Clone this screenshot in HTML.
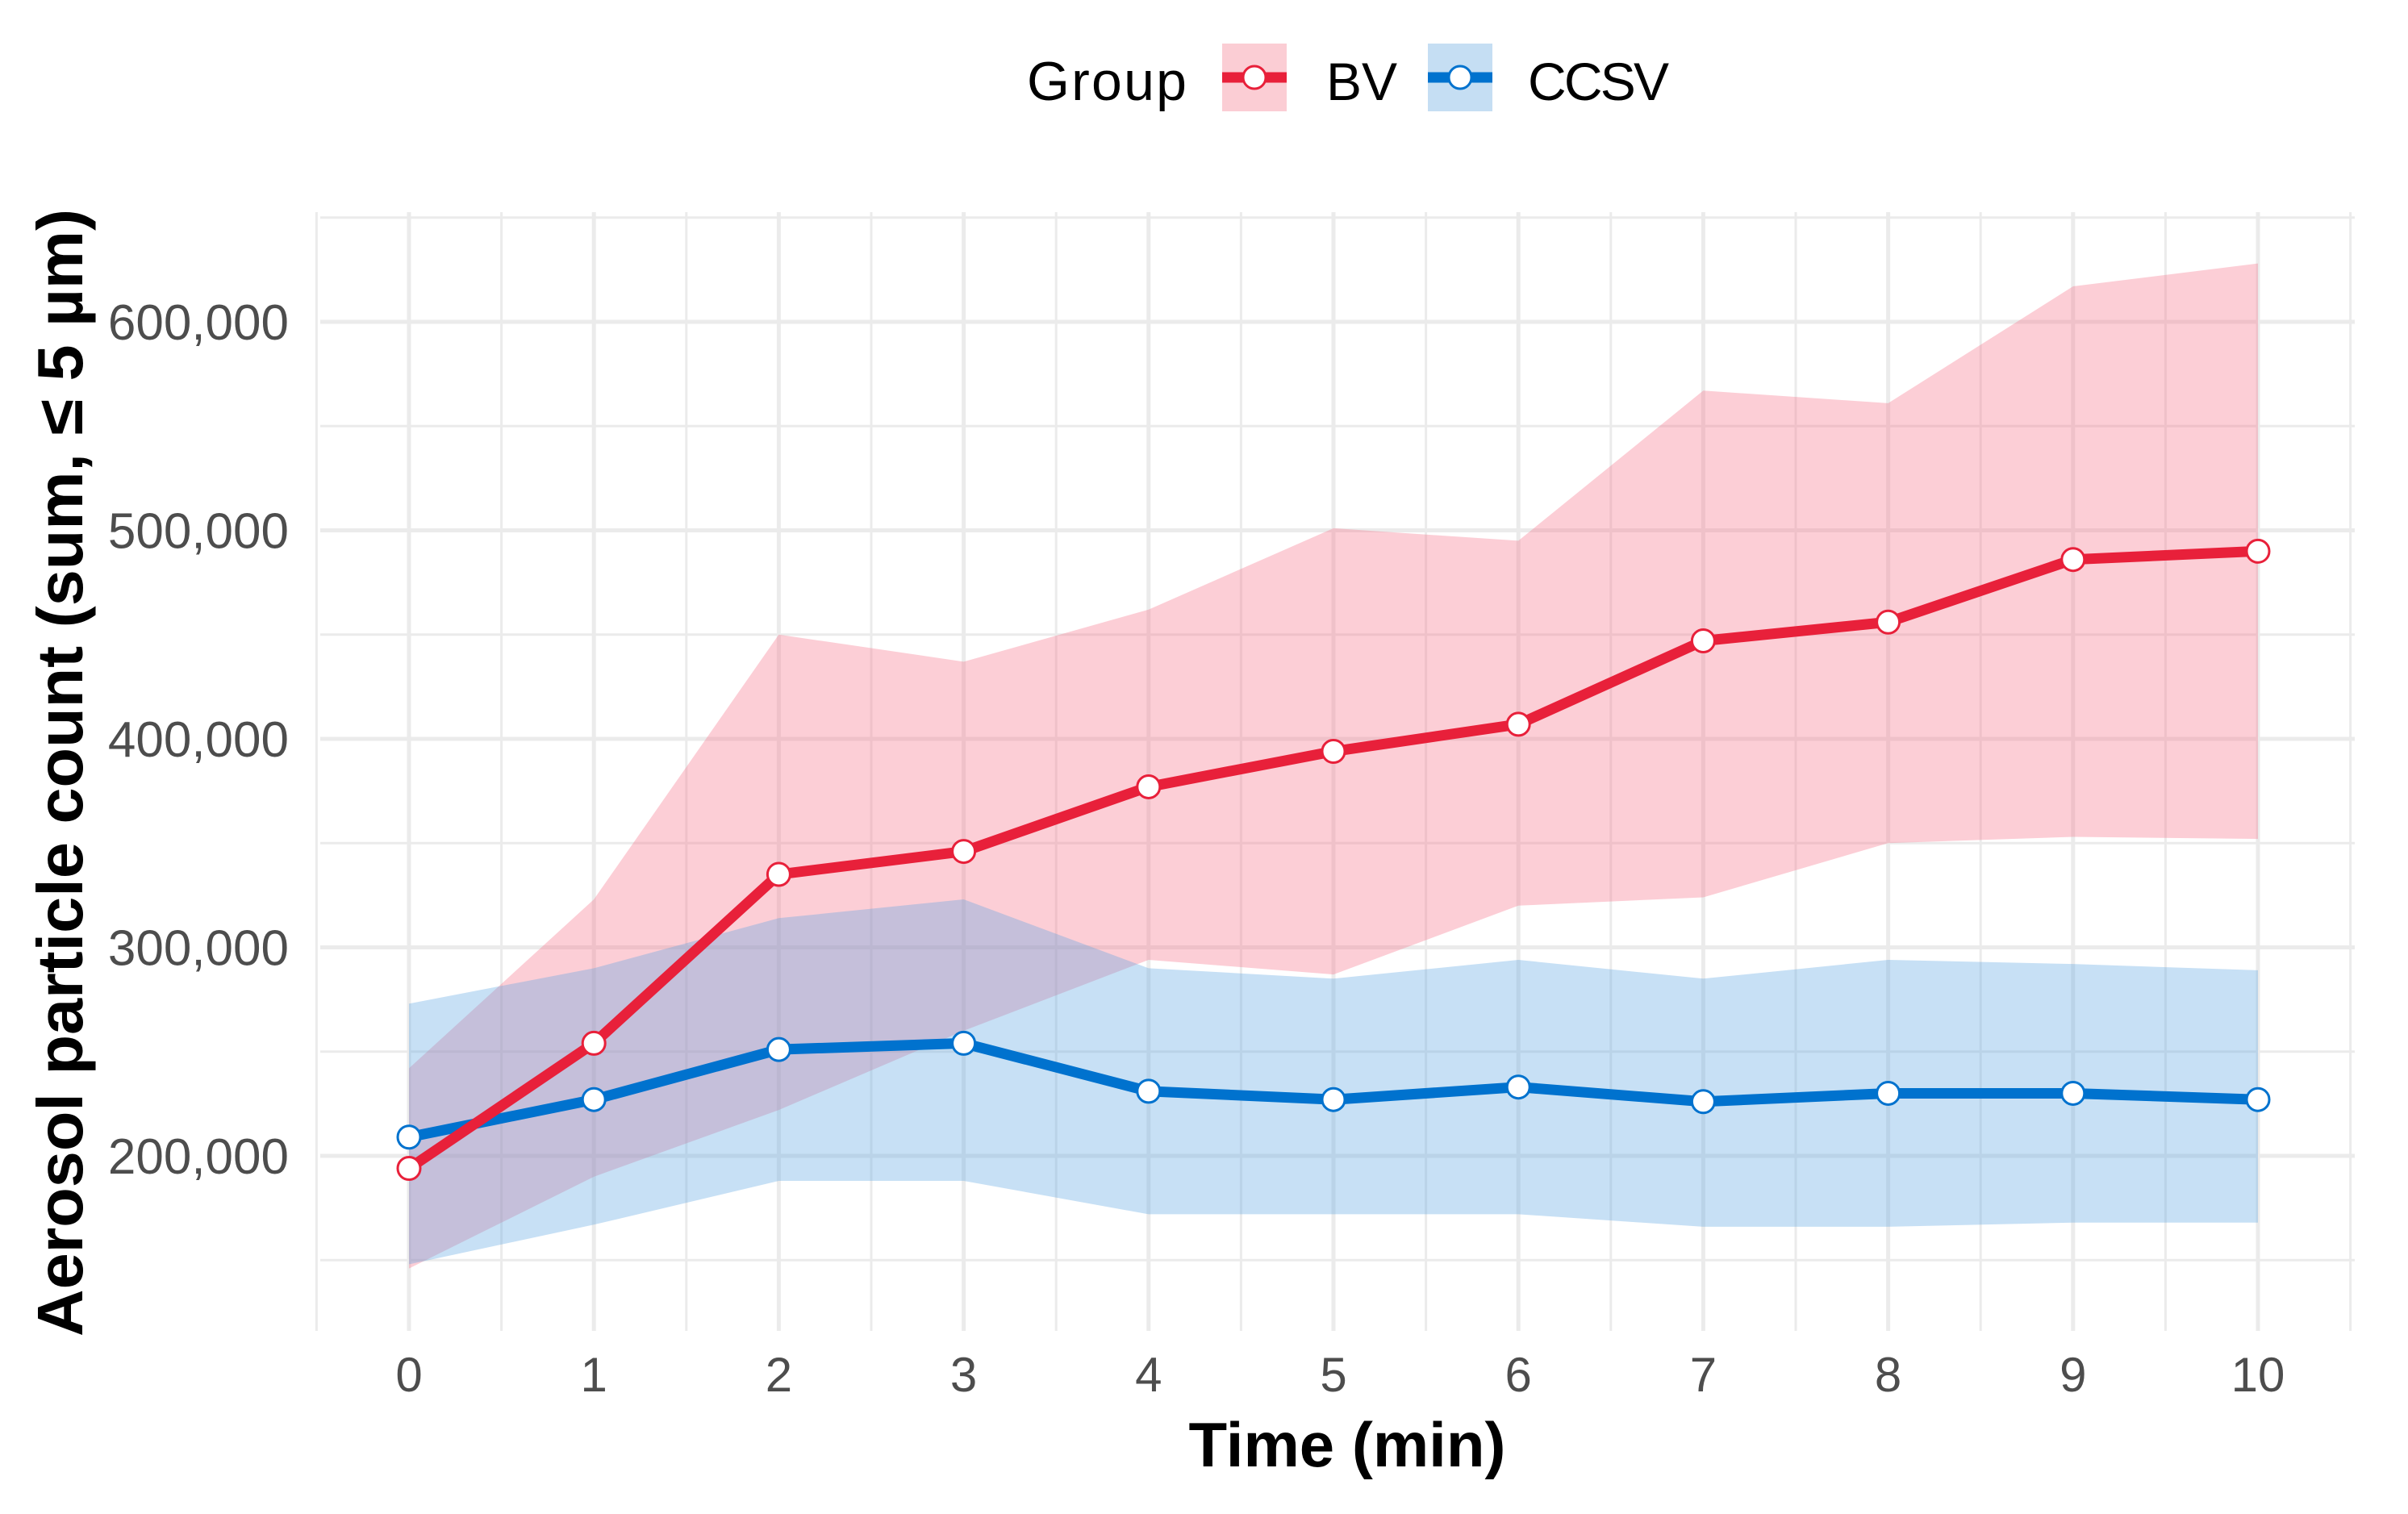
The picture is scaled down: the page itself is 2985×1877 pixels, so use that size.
<!DOCTYPE html>
<html><head><meta charset="utf-8"><style>html,body{margin:0;padding:0;background:#fff}svg{display:block}</style></head>
<body>
<svg id="chart" width="2985" height="1877" xmlns="http://www.w3.org/2000/svg" font-family="Liberation Sans, Arial, sans-serif">
<g id="grid"></g><g id="ribbons"></g><g id="lines"></g><g id="axes"></g>
<g>
<text x="1273" y="124" font-size="68" fill="#000" textLength="198">Group</text>
<g>
<rect x="1515" y="54" width="80" height="84" fill="#fbcdd4"/>
<line x1="1515" y1="96" x2="1595" y2="96" stroke="#e8203a" stroke-width="13"/>
<circle cx="1555" cy="96" r="14" fill="#fff" stroke="#e8203a" stroke-width="3"/>
<text x="1644" y="124" font-size="66" fill="#000">BV</text></g>
<g>
<rect x="1770" y="54" width="80" height="84" fill="#c5def3"/>
<line x1="1770" y1="96" x2="1850" y2="96" stroke="#0072ce" stroke-width="13"/>
<circle cx="1810" cy="96" r="14" fill="#fff" stroke="#0072ce" stroke-width="3"/>
<text x="1894" y="124" font-size="66" fill="#000" textLength="175">CCSV</text></g>
</g>
<text x="1670" y="1818" font-size="78" font-weight="bold" text-anchor="middle" fill="#000">Time (min)</text>
<text transform="translate(102,958) rotate(-90)" font-size="80" font-weight="bold" text-anchor="middle" fill="#000" textLength="1398" lengthAdjust="spacingAndGlyphs">Aerosol particle count (sum, ≤ 5 µm)</text>
</svg>
<script>
const times=[0,1,2,3,4,5,6,7,8,9,10];
const bvMean=[194000,254000,335000,346000,377000,394000,407000,447000,456000,486000,490000];
const bvUpper=[242000,323000,450000,437000,462000,501000,495000,567000,561000,617000,628000];
const bvLower=[146000,190000,222000,260000,294000,287000,320000,324000,350000,353000,352000];
const ccMean=[209000,227000,251000,254000,231000,227000,233000,226000,230000,230000,227000];
const ccUpper=[273000,290000,314000,323000,290000,285000,294000,285000,294000,292000,289000];
const ccLower=[148000,167000,188000,188000,172000,172000,172000,166000,166000,168000,168000];
const yTicks=[200000,300000,400000,500000,600000];
const yTickLabels=["200,000","300,000","400,000","500,000","600,000"];
const xTickLabels=["0","1","2","3","4","5","6","7","8","9","10"];

const NS="http://www.w3.org/2000/svg";
const PL=397,PR=2919,PT=263,PB=1650;
const X=t=>507+t*229.2;
const Y=v=>1433-(v-200000)*258.5/100000;
function mk(tag,attrs,parent){const e=document.createElementNS(NS,tag);for(const k in attrs)e.setAttribute(k,attrs[k]);document.getElementById(parent).appendChild(e);return e;}
for(let t=-0.5;t<=10.5;t+=0.5){const e=mk('line',{x1:X(t),x2:X(t),y1:PT,y2:PB,stroke:'#ebebeb','stroke-width':Number.isInteger(t)?5:3},'grid');

}
for(let v=150000;v<=650000;v+=50000){const e=mk('line',{x1:PL,x2:PR,y1:Y(v),y2:Y(v),stroke:'#ebebeb','stroke-width':v%100000===0?5:3},'grid');

}
function ribbon(up,lo,fill,name){let d='M'+times.map((t,i)=>X(t)+','+Y(up[i])).join('L');
d+='L'+times.slice().reverse().map((t,j)=>{const i=times.length-1-j;return X(t)+','+Y(lo[i]);}).join('L')+'Z';
const e=mk('path',{d:d,fill:fill},'ribbons');

}
ribbon(bvUpper,bvLower,'rgba(248,120,140,0.36)','bv-ribbon');
ribbon(ccUpper,ccLower,'rgba(90,165,225,0.34)','ccsv-ribbon');
function series(m,col,name){const e=mk('polyline',{points:times.map((t,i)=>X(t)+','+Y(m[i])).join(' '),fill:'none',stroke:col,'stroke-width':13,'stroke-linejoin':'round'},'lines');


times.forEach((t,i)=>{const c=mk('circle',{cx:X(t),cy:Y(m[i]),r:14,fill:'#fff',stroke:col,'stroke-width':3},'lines');

});}
series(ccMean,'#0072ce','ccsv');
series(bvMean,'#e8203a','bv');
yTicks.forEach((v,i)=>{const e=mk('text',{x:358,y:Y(v)+22,'font-size':62,'text-anchor':'end',fill:'#4d4d4d'},'axes');e.textContent=yTickLabels[i];

});
times.forEach((t,i)=>{const e=mk('text',{x:X(t),y:1725,'font-size':60,'text-anchor':'middle',fill:'#4d4d4d'},'axes');e.textContent=xTickLabels[i];

});
</script>
</body></html>
